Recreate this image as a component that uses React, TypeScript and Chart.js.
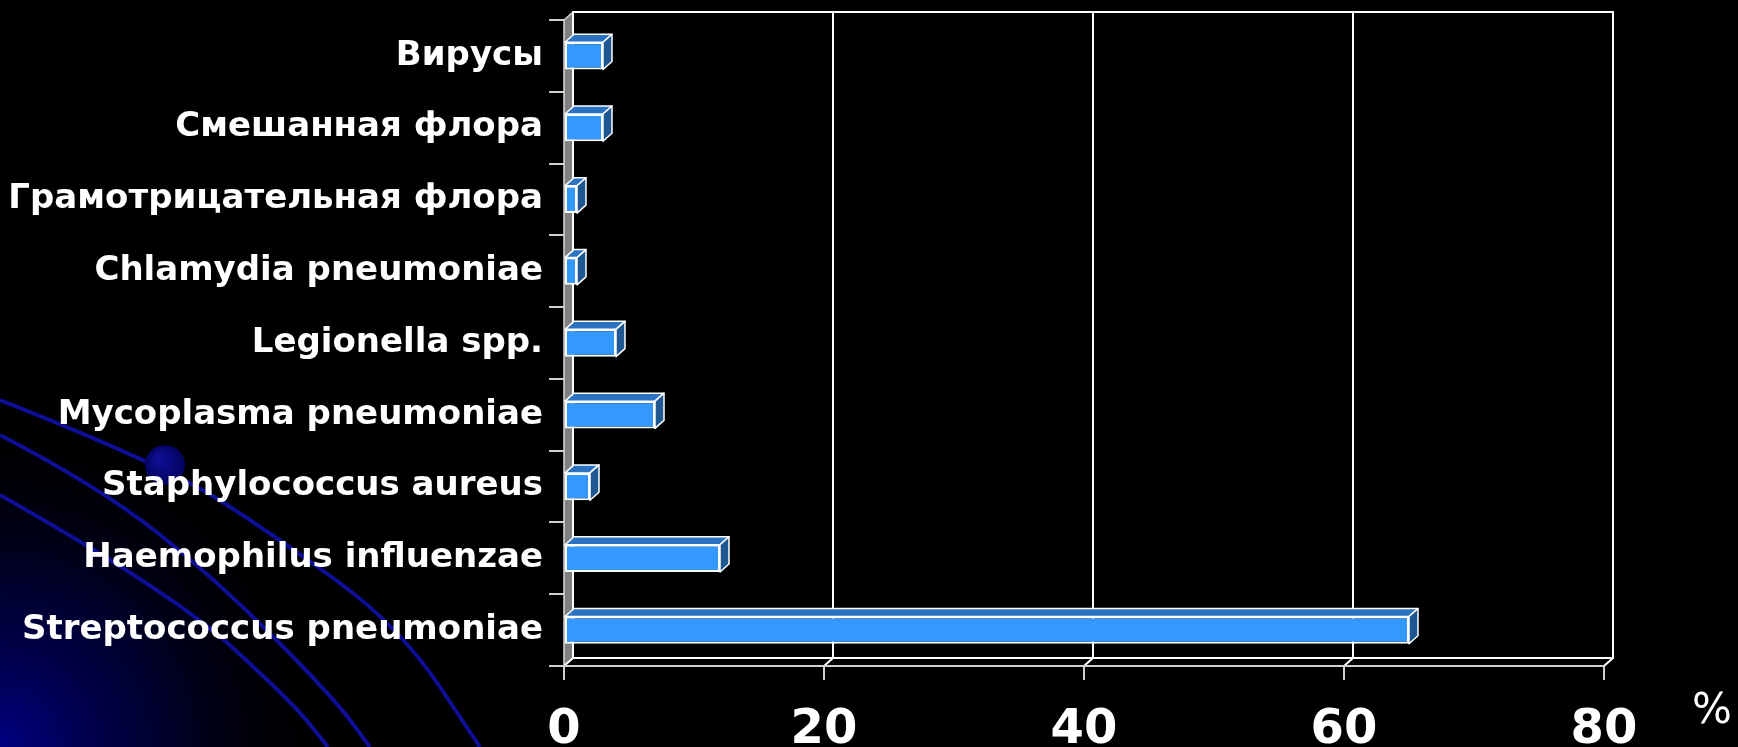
import React, { useEffect, useRef } from "react";
import { Chart, registerables } from "chart.js";

Chart.register(...registerables);

const categories: string[] = [
  "Вирусы",
  "Смешанная флора",
  "Грамотрицательная флора",
  "Chlamydia pneumoniae",
  "Legionella spp.",
  "Mycoplasma pneumoniae",
  "Staphylococcus aureus",
  "Haemophilus influenzae",
  "Streptococcus pneumoniae",
];
const values: number[] = [3, 3, 1, 1, 4, 7, 2, 12, 65];
const xTicks: number[] = [0, 20, 40, 60, 80];
const unitLabel = "%";

const DX = 9;
const DY = 8;

function smoothPath(ctx: CanvasRenderingContext2D, pts: number[][]) {
  ctx.beginPath();
  ctx.moveTo(pts[0][0], pts[0][1]);
  for (let i = 1; i < pts.length - 1; i++) {
    const mx = (pts[i][0] + pts[i + 1][0]) / 2;
    const my = (pts[i][1] + pts[i + 1][1]) / 2;
    ctx.quadraticCurveTo(pts[i][0], pts[i][1], mx, my);
  }
  const l = pts[pts.length - 1];
  ctx.lineTo(l[0], l[1]);
  ctx.stroke();
}

const plugin3d = {
  id: "p3d",
  beforeDraw(chart: any) {
    const ctx: CanvasRenderingContext2D = chart.ctx;
    const { width, height } = chart;
    ctx.save();
    ctx.fillStyle = "#000";
    ctx.fillRect(0, 0, width, height);
    const g = ctx.createRadialGradient(0, height, 0, 0, height, 340);
    g.addColorStop(0, "rgba(0,0,130,1)");
    g.addColorStop(0.5, "rgba(0,0,60,0.7)");
    g.addColorStop(1, "rgba(0,0,0,0)");
    ctx.fillStyle = g;
    ctx.fillRect(0, height - 360, 360, 360);
    ctx.strokeStyle = "rgb(14,14,150)";
    ctx.lineWidth = 4;
    smoothPath(ctx, [[0, 400], [165, 465], [277, 537], [400, 627], [480, 747]]);
    smoothPath(ctx, [[0, 435], [100, 487], [217, 580], [333, 697], [370, 747]]);
    smoothPath(ctx, [[0, 495], [173, 593], [293, 703], [328, 747]]);
    const bg = ctx.createRadialGradient(158, 458, 2, 165, 465, 20);
    bg.addColorStop(0, "rgb(15,15,150)");
    bg.addColorStop(1, "rgb(3,3,95)");
    ctx.fillStyle = bg;
    ctx.beginPath();
    ctx.arc(165, 465, 20, 0, Math.PI * 2);
    ctx.fill();
    ctx.restore();
  },
  beforeDatasetsDraw(chart: any) {
    const ctx: CanvasRenderingContext2D = chart.ctx;
    const { left, right, top, bottom } = chart.chartArea;
    const xs = chart.scales.x;
    ctx.save();
    // left wall
    ctx.fillStyle = "#808080";
    ctx.beginPath();
    ctx.moveTo(left, top);
    ctx.lineTo(left + DX, top - DY);
    ctx.lineTo(left + DX, bottom - DY);
    ctx.lineTo(left, bottom);
    ctx.closePath();
    ctx.fill();
    ctx.strokeStyle = "#d8d8d8";
    ctx.lineWidth = 1.5;
    ctx.beginPath();
    ctx.moveTo(left, bottom);
    ctx.lineTo(left, top);
    ctx.lineTo(left + DX, top - DY);
    ctx.stroke();
    // back grid lines
    ctx.strokeStyle = "#ffffff";
    ctx.lineWidth = 2;
    xs.ticks.forEach((t: any) => {
      const x = xs.getPixelForValue(t.value);
      ctx.beginPath();
      ctx.moveTo(x + DX, top - DY);
      ctx.lineTo(x + DX, bottom - DY);
      ctx.lineTo(x, bottom);
      ctx.stroke();
    });
    // back frame
    ctx.beginPath();
    ctx.moveTo(left + DX, bottom - DY);
    ctx.lineTo(left + DX, top - DY);
    ctx.lineTo(right + DX, top - DY);
    ctx.lineTo(right + DX, bottom - DY);
    ctx.lineTo(left + DX, bottom - DY);
    ctx.stroke();
    // front floor edge
    ctx.strokeStyle = "#d0d0d0";
    ctx.beginPath();
    ctx.moveTo(left, bottom);
    ctx.lineTo(right, bottom);
    ctx.stroke();
    ctx.restore();
  },
  afterDatasetsDraw(chart: any) {
    const ctx: CanvasRenderingContext2D = chart.ctx;
    const meta = chart.getDatasetMeta(0);
    ctx.save();
    ctx.strokeStyle = "#ffffff";
    ctx.lineWidth = 1.5;
    ctx.lineJoin = "round";
    meta.data.forEach((el: any) => {
      const x0 = el.base;
      const x1 = el.x;
      const y0 = el.y - el.height / 2;
      const y1 = el.y + el.height / 2;
      ctx.fillStyle = "#2b72c2";
      ctx.beginPath();
      ctx.moveTo(x0, y0);
      ctx.lineTo(x0 + DX, y0 - DY);
      ctx.lineTo(x1 + DX, y0 - DY);
      ctx.lineTo(x1, y0);
      ctx.closePath();
      ctx.fill();
      ctx.stroke();
      ctx.fillStyle = "#1f5792";
      ctx.beginPath();
      ctx.moveTo(x1, y0);
      ctx.lineTo(x1 + DX, y0 - DY);
      ctx.lineTo(x1 + DX, y1 - DY);
      ctx.lineTo(x1, y1);
      ctx.closePath();
      ctx.fill();
      ctx.stroke();
    });
    ctx.restore();
  },
  afterDraw(chart: any) {
    const ctx: CanvasRenderingContext2D = chart.ctx;
    ctx.save();
    ctx.fillStyle = "#ffffff";
    ctx.font = '42px "DejaVu Sans"';
    ctx.textAlign = "center";
    ctx.textBaseline = "middle";
    ctx.fillText(unitLabel, 1712, 712);
    ctx.restore();
  },
};

export default function App() {
  const ref = useRef<HTMLCanvasElement | null>(null);
  useEffect(() => {
    if (!ref.current) return;
    const chart = new Chart(ref.current, {
      type: "bar",
      data: {
        labels: categories,
        datasets: [
          {
            data: values,
            backgroundColor: "#3399ff",
            borderColor: "#ffffff",
            borderWidth: 2,
            borderSkipped: false,
            categoryPercentage: 1,
            barPercentage: 0.38,
          },
        ],
      },
      options: {
        indexAxis: "y",
        animation: false,
        responsive: false,
        maintainAspectRatio: false,
        layout: { padding: { left: 0, top: 20, right: 134, bottom: 0 } },
        plugins: { legend: { display: false }, tooltip: { enabled: false } },
        scales: {
          y: {
            afterFit: (s: any) => {
              s.width = 564;
              s.paddingTop = 0;
              s.paddingBottom = 0;
            },
            border: { display: false },
            grid: {
              drawOnChartArea: false,
              drawTicks: true,
              tickLength: 15,
              color: "#d0d0d0",
              lineWidth: 2,
              offset: true,
            },
            ticks: {
              color: "#ffffff",
              padding: 6,
              font: { family: '"DejaVu Sans"', weight: "bold", size: 34 },
            },
          },
          x: {
            min: 0,
            max: 80,
            afterFit: (s: any) => {
              s.height = 81;
              s.paddingLeft = 0;
              s.paddingRight = 0;
            },
            afterBuildTicks: (s: any) => {
              s.ticks = xTicks.map((v) => ({ value: v }));
            },
            border: { display: false },
            grid: {
              drawOnChartArea: false,
              drawTicks: true,
              tickLength: 14,
              color: "#d0d0d0",
              lineWidth: 2,
            },
            ticks: {
              color: "#ffffff",
              padding: 22,
              maxRotation: 0,
              font: { family: '"DejaVu Sans"', weight: "bold", size: 48 },
            },
          },
        },
      },
      plugins: [plugin3d],
    } as any);
    return () => chart.destroy();
  }, []);
  return (
    <div style={{ position: "fixed", left: 0, top: 0, width: 1738, height: 747, background: "#000" }}>
      <canvas ref={ref} width={1738} height={747} style={{ display: "block", width: 1738, height: 747 }} />
    </div>
  );
}
